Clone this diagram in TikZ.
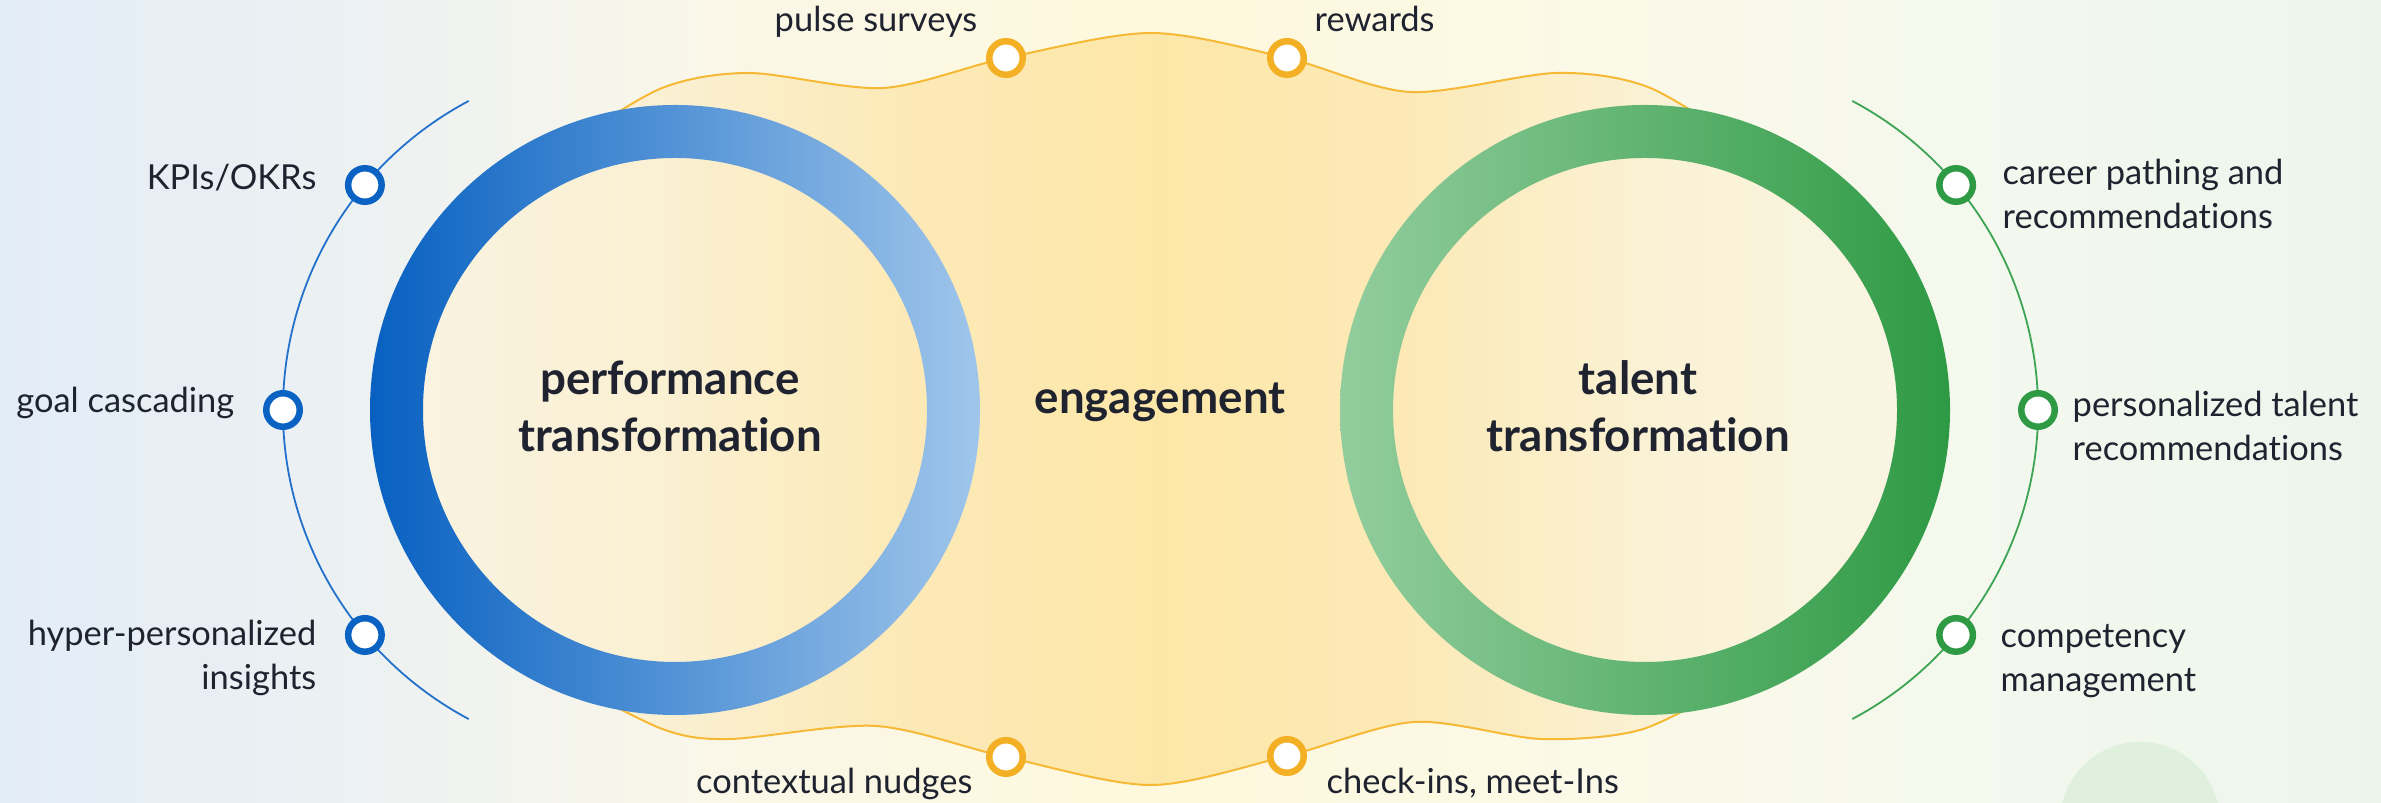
\documentclass[tikz,border=0pt]{standalone}
\usepackage{fontspec}
\setmainfont{Lato}[Ligatures={NoCommon,NoRequired,NoContextual}]
\usetikzlibrary{calc}

\definecolor{txt}{HTML}{1F2330}
\definecolor{dotblue}{HTML}{0A62C2}
\definecolor{arcblue}{HTML}{2471CC}
\definecolor{dotgreen}{HTML}{2E9A44}
\definecolor{arcgreen}{HTML}{3DA453}
\definecolor{dotorange}{HTML}{F4B024}
\definecolor{wave}{HTML}{F6B936}
\definecolor{blueL}{HTML}{0760C1}
\definecolor{blueR}{HTML}{A0C6EB}
\definecolor{greenL}{HTML}{93CD9E}
\definecolor{greenR}{HTML}{2E9A44}
\definecolor{blob}{HTML}{DFF0DD}

\definecolor{bgA}{HTML}{E3EDF7}
\definecolor{bgB}{HTML}{ECF1F2}
\definecolor{bgC}{HTML}{FAF7E8}
\definecolor{bgD}{HTML}{FEF8DC}
\definecolor{bgE}{HTML}{FBF9E8}
\definecolor{bgF}{HTML}{F3F8EE}
\definecolor{bgG}{HTML}{ECF5EC}
\pgfdeclarehorizontalshading{bgshade}{100bp}{color(0bp)=(bgA); color(25bp)=(bgA); color(32.5bp)=(bgB); color(40bp)=(bgC); color(49.5bp)=(bgD); color(59bp)=(bgE); color(67.5bp)=(bgF); color(75bp)=(bgG); color(100bp)=(bgG)}

\definecolor{glA}{HTML}{F8F4E4}
\definecolor{glB}{HTML}{FAF0D3}
\definecolor{glC}{HTML}{FCE9B6}
\definecolor{glD}{HTML}{FDE7A8}
\definecolor{glE}{HTML}{FAF2D6}
\definecolor{glF}{HTML}{F8F6E6}
\pgfdeclarehorizontalshading{glowshade}{100bp}{color(0bp)=(glA); color(25bp)=(glA); color(34.5bp)=(glB); color(42.75bp)=(glC); color(50.15bp)=(glD); color(57.6bp)=(glC); color(65.8bp)=(glE); color(75bp)=(glF); color(100bp)=(glF)}

\tikzset{
	dot/.style={circle, fill=white, line width=0.065cm, minimum size=0.335cm, inner sep=0pt},
	bluedot/.style={dot, draw=dotblue},
	greendot/.style={dot, draw=dotgreen},
	orangedot/.style={dot, draw=dotorange},
	lbl/.style={text=txt, inner sep=0pt, font=\fontsize{9.8}{12.3}\selectfont},
	ttl/.style={text=txt, inner sep=0pt, align=center, font=\fontsize{13}{16.2}\selectfont\bfseries}
}

\begin{document}
\begin{tikzpicture}
			%%%%% BACKGROUND %%%%%
			\useasboundingbox (0,0) rectangle (23.81,8.03);
			\clip (0,0) rectangle (23.81,8.03);
			\shade[shading=bgshade] (0,0) rectangle (23.81,8.03);
			\fill[blob] (21.40,-0.19) circle (0.80);
			
			\coordinate (perf) at (6.75,3.93);
			\coordinate (tal) at (16.45,3.93);
			\coordinate (parc) at (6.33,3.93);
			\coordinate (tarc) at (16.88,3.93);
			
			%%%%% ENGAGEMENT BAND %%%%%
			\shade[shading=glowshade] plot[smooth] coordinates {(5.70,6.60) (6.62,7.15) (7.49,7.30) (8.83,7.15) (10.06,7.45) (11.51,7.70) (12.87,7.45) (14.10,7.11) (15.56,7.30) (16.48,7.16) (17.41,6.60)}
				arc[start angle=70.2, end angle=-73.9, radius=2.84]
				-- plot[smooth] coordinates {(17.25,1.15) (16.40,0.73) (15.41,0.64) (14.14,0.81) (12.87,0.47) (11.51,0.18) (10.06,0.46) (8.76,0.77) (7.30,0.64) (6.65,0.73) (5.80,1.15)}
				arc[start angle=251.1, end angle=111.5, radius=2.94] -- cycle;
			
			\draw[wave, line width=0.02cm] plot[smooth] coordinates {(5.70,6.60) (6.62,7.15) (7.49,7.30) (8.83,7.15) (10.06,7.45) (11.51,7.70) (12.87,7.45) (14.10,7.11) (15.56,7.30) (16.48,7.16) (17.41,6.60)};
			\draw[wave, line width=0.02cm] plot[smooth] coordinates {(5.80,1.15) (6.65,0.73) (7.30,0.64) (8.76,0.77) (10.06,0.46) (11.51,0.18) (12.87,0.47) (14.14,0.81) (15.41,0.64) (16.40,0.73) (17.25,1.15)};
			
			%%%%% RINGS %%%%%
			\shade[left color=blueL, right color=blueR, even odd rule] (perf) circle (3.05) circle (2.52);
			\shade[left color=greenL, middle color=greenR, right color=greenR, even odd rule] (tal) circle (3.05) circle (2.52);
			
			\draw[arcblue, line width=0.018cm] ([shift={(118:3.5)}]parc) arc[start angle=118, end angle=242, radius=3.5];
			\draw[arcgreen, line width=0.018cm] ([shift={(62:3.5)}]tarc) arc[start angle=62, end angle=-62, radius=3.5];
			
			%%%%% DOTS %%%%%
			\node[bluedot] (kpi) at ([shift={(140:3.5)}]parc) {};
			\node[bluedot] (goal) at ([shift={(180:3.5)}]parc) {};
			\node[bluedot] (hyper) at ([shift={(220:3.5)}]parc) {};
			
			\node[greendot] (career) at ([shift={(40:3.5)}]tarc) {};
			\node[greendot] (talrec) at ([shift={(0:3.5)}]tarc) {};
			\node[greendot] (comp) at ([shift={(-40:3.5)}]tarc) {};
			
			\node[orangedot] (pulse) at (10.06,7.45) {};
			\node[orangedot] (reward) at (12.87,7.45) {};
			\node[orangedot] (nudge) at (10.06,0.46) {};
			\node[orangedot] (checkin) at (12.87,0.47) {};
			
			%%%%% TEXT %%%%%
			\node[ttl] (perftxt) at (6.70,3.97) {performance\\transformation};
			\node[ttl] (taltxt) at (16.38,3.97) {talent\\transformation};
			\node[ttl, anchor=mid] (engtxt) at (11.60,3.98) {engagement};
			
			\node[lbl, anchor=base east] (kpitxt) at (3.17,6.13) {KPIs/OKRs};
			\node[lbl, anchor=base east] (goaltxt) at (2.35,3.90) {goal cascading};
			\node[lbl, anchor=east, align=right] (hypertxt) at (3.17,1.45) {hyper-personalized\\insights};
			
			\node[lbl, anchor=west, align=left] (careertxt) at (20.02,6.09) {career pathing and\\recommendations};
			\node[lbl, anchor=west, align=left] (talrectxt) at (20.72,3.77) {personalized talent\\recommendations};
			\node[lbl, anchor=west, align=left] (comptxt) at (20.00,1.42) {competency\\management};
			
			\node[lbl, anchor=base east] (pulsetxt) at (9.78,7.71) {pulse surveys};
			\node[lbl, anchor=base west] (rewardtxt) at (13.14,7.71) {rewards};
			\node[lbl, anchor=base east] (nudgetxt) at (9.73,0.09) {contextual nudges};
			\node[lbl, anchor=base west] (checkintxt) at (13.26,0.09) {check-ins, meet-Ins};
			%%%%% END %%%%%
\end{tikzpicture}
\end{document}
